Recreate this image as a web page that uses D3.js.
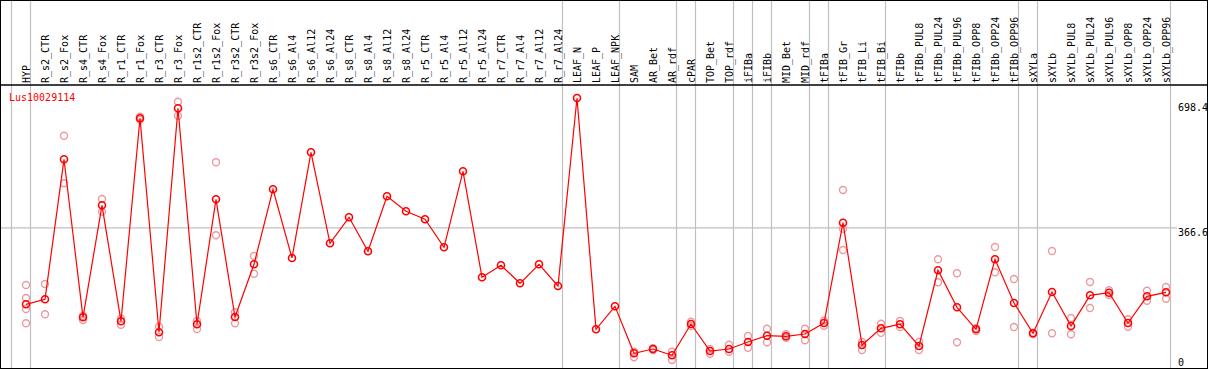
<!DOCTYPE html>
<html>
<head>
<meta charset="utf-8">
<script src="https://cdn.jsdelivr.net/npm/d3@7"></script>
<style>
  body { margin: 0; background: #fff; }
  svg { display: block; }
  text { font-family: "DejaVu Sans Mono", "Liberation Mono", monospace; font-size: 10px; }
</style>
</head>
<body>
<div id="chart"></div>
<script>
// gene name shown in the plot
geneName = "Lus10029114";

// sample names, left to right
samples = ["HYP", "R_s2_CTR", "R_s2_Fox", "R_s4_CTR", "R_s4_Fox", "R_r1_CTR", "R_r1_Fox",
  "R_r3_CTR", "R_r3_Fox", "R_r1s2_CTR", "R_r1s2_Fox", "R_r3s2_CTR", "R_r3s2_Fox",
  "R_s6_CTR", "R_s6_Al4", "R_s6_Al12", "R_s6_Al24", "R_s8_CTR", "R_s8_Al4", "R_s8_Al12",
  "R_s8_Al24", "R_r5_CTR", "R_r5_Al4", "R_r5_Al12", "R_r5_Al24", "R_r7_CTR", "R_r7_Al4",
  "R_r7_Al12", "R_r7_Al24", "LEAF_N", "LEAF_P", "LEAF_NPK", "SAM", "AR_Bet", "AR_rdf",
  "cPAR", "TOP_Bet", "TOP_rdf", "iFIBa", "iFIBb", "MID_Bet", "MID_rdf", "tFIBa", "tFIB_Gr",
  "tFIB_Li", "tFIB_Bi", "tFIBb", "tFIBb_PUL8", "tFIBb_PUL24", "tFIBb_PUL96", "tFIBb_OPP8",
  "tFIBb_OPP24", "tFIBb_OPP96", "sXYLa", "sXYLb", "sXYLb_PUL8", "sXYLb_PUL24",
  "sXYLb_PUL96", "sXYLb_OPP8", "sXYLb_OPP24", "sXYLb_OPP96"];

// mean expression per sample
means = [163.8, 177.1, 548.9, 129.3, 426.7, 118.7, 657.8, 89.5, 684.3, 110.7, 442.7, 130.1,
  270.1, 469.2, 286.8, 567.5, 325.8, 394.9, 304.6, 450.6, 410.8, 389.6, 315.2, 517.0, 235.5,
  267.4, 219.6, 270.1, 212.4, 711.7, 97.5, 158.5, 33.7, 45.1, 28.4, 111.5, 39.8, 45.1, 63.7,
  80.5, 78.9, 85.0, 114.2, 380.5, 55.8, 100.1, 111.0, 53.1, 254.1, 155.9, 97.5, 283.3, 167.3,
  86.8, 196.5, 106.2, 187.7, 194.6, 114.2, 185.1, 195.7];

// replicate values per sample (empty where they sit under the mean)
replicates = [[215.1, 180.6, 151.4, 113.4], [217.8, 137.3], [611.6, 485.2], [133.6, 122.2],
  [443.5, 409.7], [125.6, 109.7], [662, 654], [104.4, 77.0], [701.9, 664.7], [119.5, 98.3],
  [540.9, 347.1], [142.6, 113.4], [292.1, 245.1], [], [], [], [], [], [], [], [], [], [], [],
  [], [], [], [], [], [], [], [], [38.0, 23.1], [47.0, 42.5], [38.0, 15.9], [117.6, 106.2],
  [45.1, 32.7], [56.6, 38.0], [79.7, 48.6], [99.1, 62.9], [84.2, 75.2], [99.1, 68.2],
  [120.3, 107.0], [467.4, 364.6, 308.0], [63.7, 42.5], [112.3, 88.0], [119.5, 103.6],
  [63.7, 42.5], [283.3, 222.3], [246.2, 62.9], [100.1, 93.0], [316.0, 248.8], [231.0, 103.6],
  [88.4, 85.0], [305.4, 86.8], [127.5, 84.2], [223.1, 154.0], [201.0, 188.5], [124.0, 104.4],
  [200.0, 173.4], [209.8, 178.7]];

// samples after which a group separator is drawn
groupEnds = ["HYP", "R_r7_Al24", "LEAF_NPK", "AR_rdf", "cPAR", "TOP_rdf", "iFIBa", "iFIBb",
  "MID_rdf", "tFIBa", "tFIB_Bi", "tFIBb_OPP96", "sXYLa", "sXYLb_OPP96"];

// right axis labels
yTicks = [0, 366.6, 698.4];

width = 1209;
height = 370;

x = d3.scalePoint().domain(samples).range([26, 1166]);
y = d3.scaleLinear().domain([0, 698.4]).range([366, 103]);

const svg = d3.select("#chart")
  .append("svg")
  .attr("width", width)
  .attr("height", height);

// vertical group separators
const seps = [x(samples[0]) - x.step() + 4.5].concat(groupEnds.map(d => x(d) + 4.5));
svg.append("g")
  .selectAll("line")
  .data(seps)
  .join("line")
  .attr("x1", d => d).attr("x2", d => d)
  .attr("y1", 0).attr("y2", 369)
  .attr("stroke", "#c0c0c0")
  .attr("stroke-width", 1.2);

// horizontal mid gridline
svg.append("line")
  .attr("x1", 0).attr("x2", 1177)
  .attr("y1", y(366.6)).attr("y2", y(366.6))
  .attr("stroke", "#c0c0c0")
  .attr("stroke-width", 1.2);

// header separator and frame
svg.append("line")
  .attr("x1", 0).attr("x2", 1208)
  .attr("y1", 85).attr("y2", 85)
  .attr("stroke", "#000")
  .attr("stroke-width", 1.5);

svg.append("rect")
  .attr("x", 0.5).attr("y", 0.5)
  .attr("width", 1207).attr("height", 368)
  .attr("fill", "none")
  .attr("stroke", "#000");

// rotated sample labels
svg.append("g")
  .selectAll("text")
  .data(samples)
  .join("text")
  .attr("transform", d => `translate(${x(d) + 4}, 83) rotate(-90)`)
  .attr("fill", "#000")
  .text(d => d);

// right axis labels
svg.append("g")
  .selectAll("text")
  .data(yTicks)
  .join("text")
  .attr("x", 1178)
  .attr("y", d => d === 0 ? y(d) : y(d) + 8)
  .attr("fill", "#000")
  .text(d => d);

// gene title
svg.append("text")
  .attr("x", 9).attr("y", 101)
  .attr("fill", "red")
  .text(geneName);

// replicate points
const reps = samples.flatMap((s, i) => replicates[i].map(v => ({s, v})));
svg.append("g")
  .selectAll("circle")
  .data(reps)
  .join("circle")
  .attr("cx", d => x(d.s))
  .attr("cy", d => y(d.v))
  .attr("r", 3.5)
  .attr("fill", "none")
  .attr("stroke", "#eb9a9f")
  .attr("stroke-width", 1.4);

// mean line
const line = d3.line()
  .x((d, i) => x(samples[i]))
  .y(d => y(d));

svg.append("path")
  .datum(means)
  .attr("d", line)
  .attr("fill", "none")
  .attr("stroke", "red")
  .attr("stroke-width", 1.2);

// mean points
svg.append("g")
  .selectAll("circle")
  .data(means)
  .join("circle")
  .attr("cx", (d, i) => x(samples[i]))
  .attr("cy", d => y(d))
  .attr("r", 3.5)
  .attr("fill", "none")
  .attr("stroke", "red")
  .attr("stroke-width", 1.6);
</script>
</body>
</html>
